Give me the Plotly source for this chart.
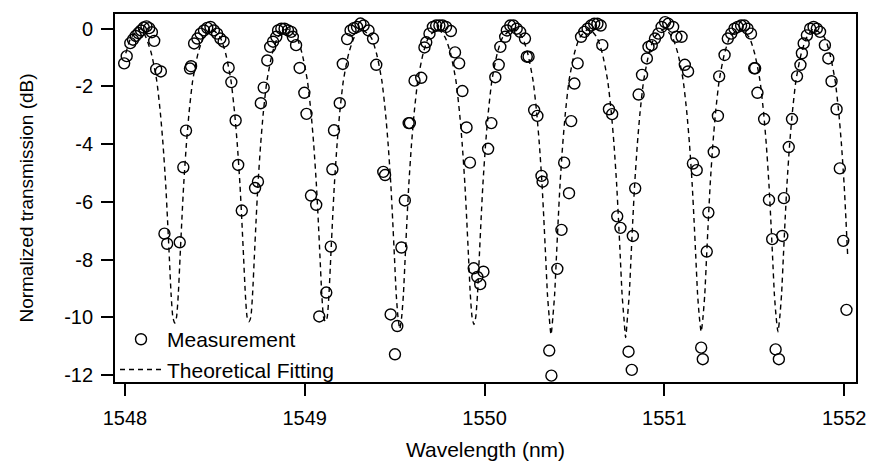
import plotly.graph_objects as go

meas_nm = [
    1547.996, 1548.010, 1548.030, 1548.045, 1548.060, 1548.075, 1548.090, 1548.105, 1548.120, 1548.135,
    1548.150, 1548.163, 1548.174, 1548.200, 1548.220, 1548.235, 1548.305,
    1548.325, 1548.340, 1548.362, 1548.368, 1548.385, 1548.403, 1548.421, 1548.440, 1548.458, 1548.476,
    1548.495, 1548.513, 1548.531, 1548.549,
    1548.577, 1548.592, 1548.616, 1548.630, 1548.650,
    1548.724, 1548.740, 1548.756, 1548.772, 1548.792, 1548.808, 1548.824, 1548.842, 1548.852, 1548.870,
    1548.888, 1548.907, 1548.925, 1548.934, 1548.952,
    1548.972, 1548.998, 1549.010, 1549.035, 1549.064, 1549.081,
    1549.120, 1549.145, 1549.154, 1549.163, 1549.195, 1549.212, 1549.236, 1549.255, 1549.273, 1549.291,
    1549.310, 1549.328, 1549.355, 1549.380,
    1549.398, 1549.437, 1549.447, 1549.478, 1549.502, 1549.515,
    1549.538, 1549.557, 1549.578, 1549.585, 1549.611, 1549.648, 1549.666, 1549.676, 1549.694, 1549.713,
    1549.731, 1549.749, 1549.767, 1549.786, 1549.813,
    1549.836, 1549.859, 1549.877, 1549.900, 1549.919, 1549.940, 1549.960, 1549.976, 1549.994,
    1550.020, 1550.038, 1550.060, 1550.079, 1550.088, 1550.115, 1550.124, 1550.143, 1550.161, 1550.179,
    1550.198, 1550.225,
    1550.235, 1550.245, 1550.276, 1550.294, 1550.317, 1550.323, 1550.360, 1550.372,
    1550.405, 1550.428, 1550.443, 1550.470, 1550.482, 1550.500, 1550.518, 1550.537, 1550.555, 1550.573,
    1550.592, 1550.610, 1550.628, 1550.646, 1550.655,
    1550.692, 1550.710, 1550.738, 1550.756, 1550.801, 1550.819, 1550.825, 1550.838,
    1550.857, 1550.876, 1550.903, 1550.912, 1550.930, 1550.948, 1550.967, 1550.985, 1551.004, 1551.022,
    1551.049, 1551.067, 1551.096,
    1551.114, 1551.132, 1551.159, 1551.180, 1551.205, 1551.214,
    1551.236, 1551.245, 1551.275, 1551.298, 1551.305, 1551.335, 1551.353, 1551.372, 1551.390, 1551.408,
    1551.427, 1551.445, 1551.463, 1551.482,
    1551.500, 1551.505, 1551.518, 1551.555, 1551.582, 1551.600, 1551.619, 1551.637,
    1551.656, 1551.665, 1551.692, 1551.710, 1551.738, 1551.757, 1551.765, 1551.775, 1551.793, 1551.811,
    1551.830, 1551.848, 1551.866,
    1551.893, 1551.912, 1551.930, 1551.958, 1551.976, 1551.995, 1552.013,
]
meas_db = [
    -1.20, -0.95, -0.50, -0.38, -0.25, -0.15, -0.06, 0.04, 0.08, 0.02,
    -0.12, -0.42, -1.40, -1.48, -7.10, -7.45, -7.40,
    -4.80, -3.53, -1.38, -1.30, -0.51, -0.34, -0.17, -0.06, 0.03, 0.06,
    -0.06, -0.17, -0.34, -0.45,
    -1.35, -1.85, -3.18, -4.72, -6.30,
    -5.52, -5.30, -2.58, -2.04, -1.10, -0.63, -0.45, -0.28, -0.06, 0.00,
    0.00, -0.06, -0.11, -0.28, -0.57,
    -1.36, -2.22, -2.95, -5.78, -6.10, -9.97,
    -9.14, -7.55, -4.87, -3.52, -2.58, -1.22, -0.36, -0.06, 0.02, 0.06,
    0.18, 0.11, -0.06, -0.34,
    -1.25, -4.96, -5.07, -9.90, -11.28, -10.30,
    -7.58, -5.95, -3.27, -3.27, -1.80, -1.70, -0.65, -0.47, -0.17, 0.06,
    0.11, 0.11, 0.11, 0.06, -0.08,
    -0.82, -1.20, -2.16, -3.42, -4.64, -8.30, -8.60, -8.85, -8.42,
    -4.16, -3.27, -1.68, -1.25, -0.63, -0.28, -0.06, 0.11, 0.11, 0.00,
    -0.11, -0.34,
    -0.97, -0.97, -2.82, -3.02, -5.10, -5.30, -11.15, -12.02,
    -8.32, -6.97, -4.64, -5.70, -3.20, -1.90, -1.20, -0.28, -0.11, 0.00,
    0.11, 0.17, 0.17, 0.11, -0.57,
    -2.79, -2.96, -6.50, -6.90, -11.19, -11.82, -7.18, -5.53,
    -2.28, -1.60, -1.03, -0.63, -0.57, -0.34, -0.17, 0.06, 0.23, 0.17,
    0.06, -0.28, -0.28,
    -1.25, -1.48, -4.67, -4.90, -11.05, -11.45,
    -7.72, -6.37, -4.27, -3.02, -1.65, -0.91, -0.34, -0.17, 0.00, 0.06,
    0.11, 0.11, 0.00, -0.17,
    -1.37, -1.37, -2.22, -3.13, -5.93, -7.29, -11.11, -11.45,
    -7.18, -5.87, -4.10, -3.13, -1.65, -1.25, -0.85, -0.51, -0.23, 0.00,
    0.06, 0.00, -0.11,
    -0.57, -1.03, -1.82, -2.79, -4.84, -7.35, -9.74,
]

# ---- Theoretical fitting ----
fit_dip_nm = [1547.875, 1548.277, 1548.690, 1549.115, 1549.529, 1549.941,
              1550.370, 1550.785, 1551.205, 1551.632, 1552.050]
fit_dip_db = [-10.2, -10.2, -10.15, -10.15, -10.4, -10.25,
              -10.6, -10.7, -10.5, -10.5, -10.5]
fit_peak_nm = [1548.09, 1548.48, 1548.90, 1549.31, 1549.74, 1550.16,
               1550.58, 1551.00, 1551.42, 1551.83]
fit_peak_db = [0.0, 0.0, 0.0, 0.0, 0.0, 0.0, 0.0, 0.0, 0.0, 0.0]
# shape of the dashed curve around each dip (offset in nm, level in dB)
dip_offset_nm = [-0.16, -0.13, -0.10, -0.08, -0.065, -0.05, -0.04, -0.03, -0.02, -0.01,
                 0.01, 0.02, 0.03, 0.04, 0.05, 0.065, 0.08, 0.10, 0.13, 0.16]
dip_shape_db = [-0.3, -0.85, -1.8, -2.9, -4.0, -5.4, -6.6, -7.9, -9.2, -10.0,
                -10.0, -9.2, -7.9, -6.6, -5.4, -4.0, -2.9, -1.8, -0.85, -0.3]

fit_start_nm = 1548.0
fit_end_nm = 1552.02

pts = []
for d, dd in zip(fit_dip_nm, fit_dip_db):
    pts.append((d, dd))
    for o, v in zip(dip_offset_nm, dip_shape_db):
        pts.append((d + o, v))
for p, pv in zip(fit_peak_nm, fit_peak_db):
    pts.append((p, pv))
pts = sorted(p for p in pts if fit_start_nm <= p[0] <= fit_end_nm)
fit_nm = [p[0] for p in pts]
fit_db = [p[1] for p in pts]

x_ticks = [1548, 1549, 1550, 1551, 1552]
y_ticks = [0, -2, -4, -6, -8, -10, -12]
y_ticktext = ["0", "-2", "-4", "-6", "-8", "-10", "-12"]

FONT = "Liberation Sans, Arial, sans-serif"

fig = go.Figure()
fig.add_trace(go.Scatter(
    x=meas_nm, y=meas_db, mode="markers", name="Measurement",
    legendgroup="a",
    marker=dict(symbol="circle-open", size=11, color="black", line=dict(width=1.4, color="black")),
))
fig.add_trace(go.Scatter(
    x=fit_nm, y=fit_db, mode="lines", name="Theoretical Fitting",
    legendgroup="b",
    line=dict(color="black", width=1.4, dash="5px,4px", shape="spline", smoothing=0.6),
))

fig.update_layout(
    width=878, height=470,
    margin=dict(l=115, r=13, t=12, b=85),
    paper_bgcolor="white", plot_bgcolor="white",
    font=dict(family=FONT, size=20, color="black"),
    showlegend=True,
    legend=dict(x=0.0, y=-0.022, xanchor="left", yanchor="bottom",
                bgcolor="rgba(0,0,0,0)", borderwidth=0, font=dict(size=21),
                itemwidth=42, tracegroupgap=0, traceorder="normal"),
    xaxis=dict(range=[1547.945, 1552.066], tickvals=x_ticks, ticks="outside", ticklen=12,
               tickwidth=1.5, tickcolor="black", showline=True, mirror=True, linecolor="black",
               linewidth=1.8, showgrid=False, zeroline=False, ticklabelstandoff=5,
               tickfont=dict(size=20),
               title=dict(text="Wavelength (nm)", standoff=14, font=dict(size=21))),
    yaxis=dict(range=[-12.24, 0.51], tickvals=y_ticks, ticktext=y_ticktext, ticks="outside",
               ticklen=12, tickwidth=1.5, tickcolor="black", showline=True, mirror=True,
               linecolor="black", linewidth=1.8, showgrid=False, zeroline=False,
               ticklabelstandoff=4, tickfont=dict(size=20),
               title=dict(text="Normalized transmission (dB)", standoff=26, font=dict(size=19))),
)

fig.write_html("out.html")
